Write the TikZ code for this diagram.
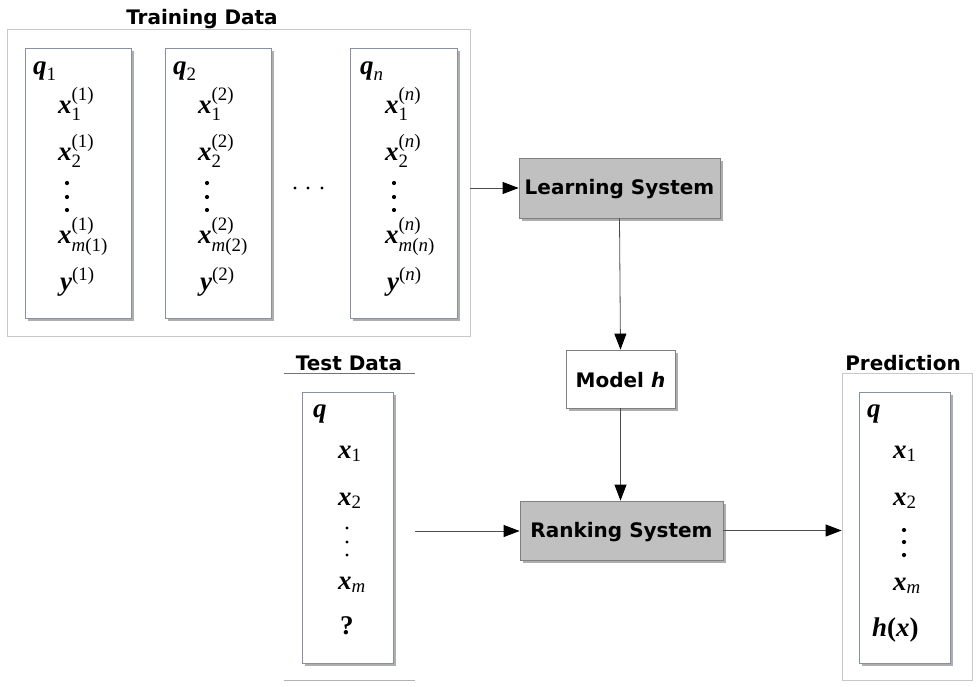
\documentclass[tikz,border=0pt]{standalone}
\usepackage{amsmath}
\usepackage{fontspec}
\newfontfamily\labfont{DejaVu Sans}
\newfontfamily\mfont{Liberation Serif}
\newcommand{\mv}[1]{\text{\mfont\bfseries\itshape #1}}
\newcommand{\ms}[1]{\text{\mfont\itshape #1}}
\newcommand{\mr}[1]{\text{\mfont #1}}
\usetikzlibrary{arrows.meta,shadows}
\definecolor{colborder}{RGB}{135,145,160}
\definecolor{outerborder}{RGB}{200,200,200}
\definecolor{boxgray}{RGB}{192,192,192}
\definecolor{boxborder}{RGB}{128,128,128}
\begin{document}
\begin{tikzpicture}[x=1pt,y=-1pt,
  lab/.style={font=\labfont\bfseries\fontsize{20}{24}\selectfont, inner sep=0pt, yshift=-1.5pt},
  mth/.style={font=\fontsize{27}{31}\selectfont, inner sep=0pt, anchor=base west},
  shad/.style={drop shadow={shadow xshift=3pt,shadow yshift=-3pt,opacity=0.45,fill=black!70}},
  colbox/.style={draw=colborder, fill=white, line width=0.8pt, shad, inner sep=0pt},
  outerbox/.style={draw=outerborder, line width=0.8pt, inner sep=0pt},
  sysbox/.style={draw=boxborder, fill=boxgray, line width=0.8pt, shad, inner sep=0pt},
  vdot/.style={circle, fill=black, inner sep=0pt, minimum size=4.2pt},
  hdot/.style={circle, fill=black, inner sep=0pt, minimum size=3.4pt},
  arr/.style={draw=black!70, line width=0.8pt, -{Triangle[length=16pt,width=12pt,black]}}]
\useasboundingbox (0,0) rectangle (978,686);

% ---------- Training data ----------
\node[lab] (trlab) at (202,18) {Training Data};
\node[outerbox, minimum width=463pt, minimum height=307pt] (train) at (238.5,182.5) {};

\node[colbox, minimum width=106pt, minimum height=270pt] (c1) at (78,183) {};
\node[colbox, minimum width=106pt, minimum height=270pt] (c2) at (218,183) {};
\node[colbox, minimum width=107pt, minimum height=270pt] (c3) at (403.5,183) {};

% column 1
\node[mth] (c1q) at (33,74) {$\mv{q}_{\mr{1}}$};
\node[mth] (c1a) at (58,113) {$\mv{x}_{\mr{1}}^{\mr{(1)}}$};
\node[mth] (c1b) at (58,160) {$\mv{x}_{\mr{2}}^{\mr{(1)}}$};
\node[vdot] (c1d1) at (67,183) {};
\node[vdot] (c1d2) at (67,197) {};
\node[vdot] (c1d3) at (67,210) {};
\node[mth] (c1m) at (58,243) {$\mv{x}_{\ms{m}\mr{(1)}}^{\mr{(1)}}$};
\node[mth] (c1y) at (60,290) {$\mv{y}^{\mr{(1)}}$};

% column 2
\node[mth] (c2q) at (173,74) {$\mv{q}_{\mr{2}}$};
\node[mth] (c2a) at (198,113) {$\mv{x}_{\mr{1}}^{\mr{(2)}}$};
\node[mth] (c2b) at (198,160) {$\mv{x}_{\mr{2}}^{\mr{(2)}}$};
\node[vdot] (c2d1) at (207,183) {};
\node[vdot] (c2d2) at (207,197) {};
\node[vdot] (c2d3) at (207,210) {};
\node[mth] (c2m) at (198,243) {$\mv{x}_{\ms{m}\mr{(2)}}^{\mr{(2)}}$};
\node[mth] (c2y) at (200,290) {$\mv{y}^{\mr{(2)}}$};

% column n
\node[mth] (c3q) at (360,74) {$\mv{q}_{\ms{n}}$};
\node[mth] (c3a) at (385,113) {$\mv{x}_{\mr{1}}^{\mr{(}\ms{n}\mr{)}}$};
\node[mth] (c3b) at (385,160) {$\mv{x}_{\mr{2}}^{\mr{(}\ms{n}\mr{)}}$};
\node[vdot] (c3d1) at (394,183) {};
\node[vdot] (c3d2) at (394,197) {};
\node[vdot] (c3d3) at (394,210) {};
\node[mth] (c3m) at (385,243) {$\mv{x}_{\ms{m}\mr{(}\ms{n}\mr{)}}^{\mr{(}\ms{n}\mr{)}}$};
\node[mth] (c3y) at (387,290) {$\mv{y}^{\mr{(}\ms{n}\mr{)}}$};

% horizontal dots
\node[hdot] (h1) at (295,188) {};
\node[hdot] (h2) at (308,188) {};
\node[hdot] (h3) at (322,188) {};

% ---------- Systems ----------
\node[sysbox, minimum width=201pt, minimum height=60pt] (learn) at (619.5,188) {};
\node[lab] (learnt) at (learn.center) {Learning System};

\node[colbox, draw=boxborder, minimum width=109pt, minimum height=58pt] (model) at (620.5,379) {};
\node[lab] (modelt) at (model.center) {Model \textit{h}};

\node[sysbox, minimum width=203pt, minimum height=59pt] (rank) at (621.5,530.5) {};
\node[lab] (rankt) at (rank.center) {Ranking System};

% ---------- Test data ----------
\node[lab] (telab) at (349,362) {Test Data};
\coordinate (tl1a) at (284,373);
\coordinate (tl1b) at (415,373);
\coordinate (tl2a) at (284,680);
\coordinate (tl2b) at (415,680);
\draw[draw=black!55, line width=0.8pt] (tl1a) -- (tl1b);
\draw[draw=black!30, line width=0.8pt] (tl2a) -- (tl2b);

\node[colbox, minimum width=91pt, minimum height=271pt] (test) at (347.5,527.5) {};
\node[mth] (tq) at (313,417) {$\mv{q}$};
\node[mth] (t1) at (338,458) {$\mv{x}_{\mr{1}}$};
\node[mth] (t2) at (338,505) {$\mv{x}_{\mr{2}}$};
\node[hdot] (td1) at (347,528) {};
\node[hdot] (td2) at (347,542) {};
\node[hdot] (td3) at (347,555) {};
\node[mth] (tm) at (338,589) {$\mv{x}_{\ms{m}}$};
\node[mth] (tqm) at (340,634) {\mfont\bfseries ?};

% ---------- Prediction ----------
\node[lab] (prlab) at (903,362) {Prediction};
\node[outerbox, minimum width=130pt, minimum height=307pt] (pred) at (907,526.5) {};
\node[colbox, minimum width=91pt, minimum height=271pt] (predc) at (904.5,527.5) {};
\node[mth] (pq) at (867,417) {$\mv{q}$};
\node[mth] (p1) at (893,458) {$\mv{x}_{\mr{1}}$};
\node[mth] (p2) at (893,505) {$\mv{x}_{\mr{2}}$};
\node[vdot] (pd1) at (904,530) {};
\node[vdot] (pd2) at (904,542) {};
\node[vdot] (pd3) at (904,555) {};
\node[mth] (pm) at (893,590) {$\mv{x}_{\ms{m}}$};
\node[mth] (ph) at (872,636) {\mfont\bfseries\itshape h\upshape(\itshape x\upshape)};

% ---------- Connectors ----------
\coordinate (tin) at (415,531);
\draw[arr] (train.east |- learn.west) -- (learn.west);
\draw[arr] (learn.south) -- (model.north);
\draw[arr] (model.south) -- (model.south |- rank.north);
\draw[arr] (tin) -- (tin -| rank.west);
\draw[arr] (rank.east) -- (rank.east -| pred.west);
\end{tikzpicture}
\end{document}
